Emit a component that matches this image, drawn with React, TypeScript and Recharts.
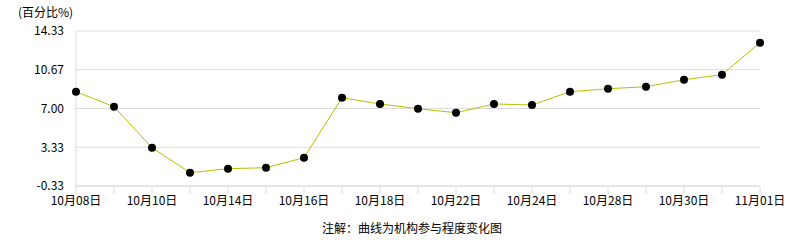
import { LineChart, Line, XAxis, YAxis, CartesianGrid } from 'recharts';

// trading days, only every other one is labelled on the axis
const dates = [
  '10月08日', '10月09日', '10月10日', '10月11日', '10月14日', '10月15日', '10月16日',
  '10月17日', '10月18日', '10月21日', '10月22日', '10月23日', '10月24日', '10月25日',
  '10月28日', '10月29日', '10月30日', '10月31日', '11月01日',
];
const participation = [
  8.59, 7.17, 3.29, 0.93, 1.31, 1.40, 2.35,
  8.02, 7.43, 6.98, 6.60, 7.43, 7.33, 8.59,
  8.87, 9.06, 9.72, 10.20, 13.22,
];
const yTicks = [-0.33, 3.33, 7.0, 10.67, 14.33];

const FONT = '"Noto Sans CJK SC", "DejaVu Sans", sans-serif';
const GRID = '#dcdcdc';

const data = dates.map((d, i) => ({ date: d, value: participation[i] }));

export default function App() {
  return (
    <div style={{ position: 'absolute', left: 0, top: 0, width: 786, height: 240, background: '#fff', fontFamily: FONT }}>
      <div style={{ position: 'absolute', left: 18, top: 3, fontSize: 12, color: '#000' }}>(百分比%)</div>
      <LineChart width={786} height={240} data={data} margin={{ top: 31, right: 26, bottom: 34, left: 0 }}>
        <CartesianGrid vertical={false} stroke={GRID} />
        <XAxis
          dataKey="date"
          interval={0}
          padding={{ left: 0, right: 0 }}
          stroke={GRID}
          tickSize={8}
          height={20}
          tick={{ fill: '#000', fontSize: 12, fontFamily: FONT }}
          tickFormatter={(v: string, i: number) => (i % 2 === 0 ? v : '')}
        />
        <YAxis
          width={76}
          domain={[-0.33, 14.33]}
          ticks={yTicks}
          interval={0}
          stroke={GRID}
          tickLine={false}
          tickMargin={6}
          tick={{ fill: '#000', fontSize: 12, fontFamily: FONT }}
          tickFormatter={(v: number) => v.toFixed(2)}
        />
        <YAxis yAxisId="right" orientation="right" width={0} stroke={GRID} tick={false} tickLine={false} />
        <Line
          type="linear"
          dataKey="value"
          stroke="#bdbd00"
          strokeWidth={1}
          dot={{ r: 4, fill: '#000', stroke: '#000', strokeWidth: 0 }}
          isAnimationActive={false}
        />
      </LineChart>
      <div style={{ position: 'absolute', left: 0, width: 824, top: 219, textAlign: 'center', fontSize: 12, color: '#000' }}>
        注解：曲线为机构参与程度变化图
      </div>
    </div>
  );
}
